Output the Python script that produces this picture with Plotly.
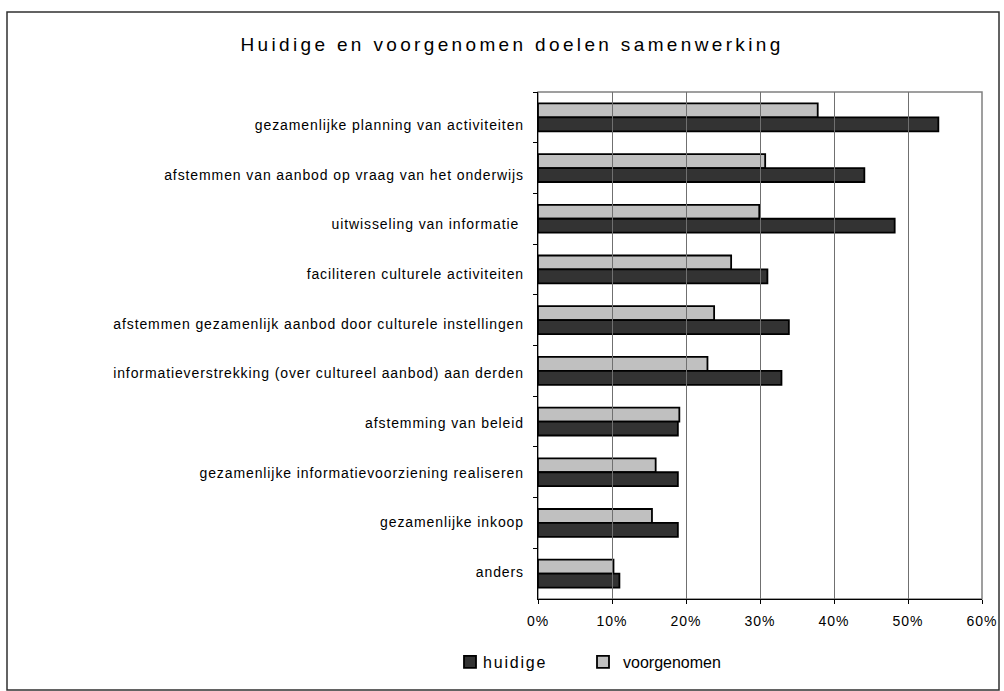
import plotly.graph_objects as go

categories = [
    "gezamenlijke planning van activiteiten",
    "afstemmen van aanbod op vraag van het onderwijs",
    "uitwisseling van informatie ",
    "faciliteren culturele activiteiten",
    "afstemmen gezamenlijk aanbod door culturele instellingen",
    "informatieverstrekking (over cultureel aanbod) aan derden",
    "afstemming van beleid",
    "gezamenlijke informatievoorziening realiseren",
    "gezamenlijke inkoop",
    "anders",
]
huidige = [0.541, 0.441, 0.482, 0.310, 0.339, 0.329, 0.189, 0.189, 0.189, 0.110]
voorgenomen = [0.378, 0.307, 0.299, 0.261, 0.238, 0.229, 0.191, 0.159, 0.154, 0.102]
x_ticks = [0, 0.1, 0.2, 0.3, 0.4, 0.5, 0.6]
x_labels = ["0%", "10%", "20%", "30%", "40%", "50%", "60%"]

W, H = 1004, 691
L, R, T, B = 538, 22, 92, 92
pw, ph = W - L - R, H - T - B

def px(x):
    return (x - L) / pw

def py(y):
    return (H - B - y) / ph

fnt = "Liberation Sans, Arial, sans-serif"

fig = go.Figure()
fig.add_trace(go.Bar(
    y=categories, x=voorgenomen, orientation="h", name="voorgenomen",
    marker=dict(color="#C0C0C0", line=dict(color="#000000", width=1.8)),
    legend="legend2", hoverinfo="skip",
))
fig.add_trace(go.Bar(
    y=categories, x=huidige, orientation="h", name="huidige",
    marker=dict(color="#333333", line=dict(color="#000000", width=1.8)),
    legend="legend", hoverinfo="skip",
))
# carrier for the category labels (Excel places them on a slightly tighter pitch)
fig.add_trace(go.Scatter(
    y=categories, x=[0] * len(categories), yaxis="y2", mode="markers",
    marker=dict(opacity=0), showlegend=False, hoverinfo="skip",
))

leg_common = dict(orientation="h", xanchor="left", y=py(662), yanchor="middle",
                  font=dict(family=fnt, size=16, color="#000000"),
                  itemwidth=30, borderwidth=0, bgcolor="rgba(0,0,0,0)")

fig.update_layout(
    width=W, height=H,
    margin=dict(l=L, r=R, t=T, b=B, autoexpand=False),
    paper_bgcolor="white", plot_bgcolor="rgba(0,0,0,0)",
    barmode="group", bargap=0.45, bargroupgap=0,
    title=dict(text="Huidige en voorgenomen doelen samenwerking",
               xref="container", yref="container",
               x=512 / W, xanchor="center", y=1 - 44 / H, yanchor="middle",
               font=dict(family=fnt, size=19, color="#000000")),
    font=dict(family=fnt, size=14, color="#000000"),
    legend=dict(x=px(450), **leg_common),
    legend2=dict(x=px(583), **leg_common),
    showlegend=True,
    hovermode=False,
    xaxis=dict(range=[0, 0.6], tickvals=x_ticks, ticktext=x_labels,
               showgrid=True, gridcolor="#707070", gridwidth=1,
               showline=True, linecolor="#000000", linewidth=1,
               ticks="outside", ticklen=4, tickcolor="#000000",
               tickfont=dict(family=fnt, size=14, color="#000000"),
               ticklabelstandoff=5,
               zeroline=False, mirror=False, fixedrange=True),
    yaxis=dict(autorange="reversed", showline=True, linecolor="#000000", linewidth=1,
               ticks="outside", ticklen=4, tickcolor="#000000", tickson="boundaries",
               showgrid=False, showticklabels=False, fixedrange=True),
    yaxis2=dict(anchor="x", side="left", domain=[py(597), py(100.3)],
                type="category", range=[len(categories) - 0.5, -0.5],
                showline=False, ticks="", showgrid=False, zeroline=False,
                tickfont=dict(family=fnt, size=14, color="#000000"),
                ticklabelstandoff=13, fixedrange=True),
    shapes=[
        dict(type="rect", xref="paper", yref="paper",
             x0=px(7), x1=px(999), y0=py(690), y1=py(12),
             line=dict(color="#303030", width=1.5), fillcolor="rgba(0,0,0,0)", layer="below"),
        dict(type="rect", xref="paper", yref="paper", x0=0, x1=1, y0=0, y1=1,
             line=dict(color="#808080", width=1.5), fillcolor="rgba(0,0,0,0)", layer="below"),
    ],
)

post = """
document.body.style.margin = '0';
document.body.style.overflow = 'hidden';
var gd = document.getElementById('{plot_id}');
function restyleText() {
  function ls(sel, v) { gd.querySelectorAll(sel).forEach(function(e){ e.style.letterSpacing = v; }); }
  ls('.gtitle', '3.35px');
  ls('.y2tick text', '0.9px');
  ls('.xtick text', '1px');
  ls('.legendtext', '1.8px');
  gd.querySelectorAll('.scrollbox').forEach(function(e){ e.removeAttribute('clip-path'); });
  gd.querySelectorAll('.legendtext').forEach(function(e){ e.setAttribute('x', '33'); });
}
restyleText();
gd.on('plotly_afterplot', restyleText);
setTimeout(restyleText, 0);
setTimeout(restyleText, 200);
setTimeout(restyleText, 800);
"""

fig.write_html("out.html", post_script=post, config={"displayModeBar": False})
